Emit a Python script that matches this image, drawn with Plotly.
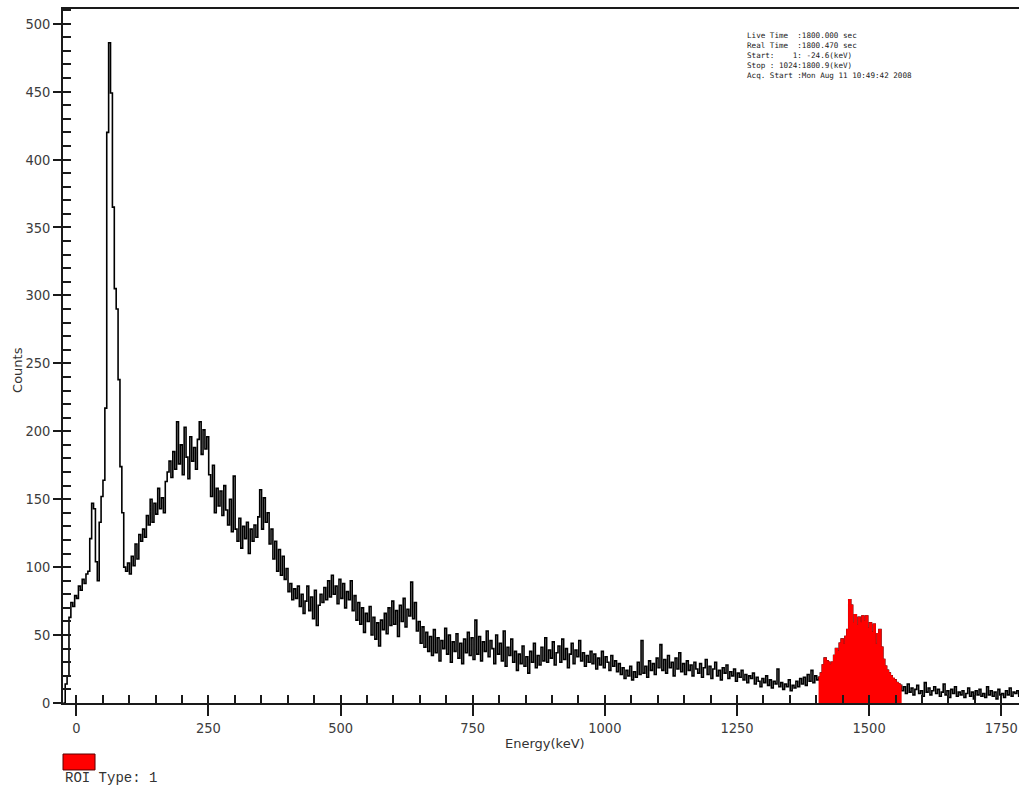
import plotly.graph_objects as go

# Calibration (from the info box): channel 1 -> -24.6 keV, channel 1024 -> 1800.9 keV
start_kev = -24.6
stop_kev = 1800.9

# Spectrum counts (2-channel bins)
counts = [
    0, 14, 20, 63, 74, 71, 79, 77, 86, 83, 91, 88, 95, 97, 121, 147, 143, 104, 90, 133, 152, 164, 217, 420, 486, 449, 365, 305,
    290, 238, 174, 140, 100, 97, 103, 95, 108, 101, 117, 106, 124, 119, 128, 122, 138, 131, 150, 133, 147, 139, 158, 143, 151, 140, 163, 170,
    178, 166, 185, 172, 207, 176, 190, 168, 203, 181, 165, 196, 178, 188, 172, 194, 207, 183, 201, 187, 196, 168, 152, 175, 140, 158, 145, 156,
    138, 160, 142, 131, 150, 126, 167, 128, 119, 136, 114, 130, 121, 133, 110, 128, 119, 131, 122, 137, 157, 128, 151, 133, 140, 117, 128, 106,
    119, 97, 113, 94, 108, 91, 99, 82, 88, 76, 84, 77, 86, 71, 80, 66, 75, 86, 68, 78, 62, 83, 57, 72, 80, 74, 85, 76,
    90, 78, 94, 80, 86, 73, 91, 77, 88, 70, 82, 76, 90, 68, 79, 61, 74, 58, 70, 52, 66, 60, 71, 50, 63, 47, 59, 42,
    61, 54, 66, 51, 70, 57, 75, 58, 68, 49, 72, 60, 77, 56, 69, 64, 89, 62, 74, 53, 60, 44, 56, 41, 52, 38, 49, 35,
    54, 37, 48, 31, 46, 40, 55, 36, 50, 30, 45, 38, 51, 33, 44, 29, 47, 37, 52, 35, 48, 32, 61, 36, 49, 31, 45, 38,
    53, 34, 46, 40, 29, 50, 36, 44, 31, 53, 27, 41, 35, 47, 30, 38, 24, 36, 29, 42, 27, 34, 22, 38, 30, 44, 26, 35,
    28, 41, 31, 48, 30, 39, 33, 45, 28, 37, 42, 30, 47, 32, 40, 26, 36, 44, 29, 39, 34, 46, 31, 37, 27, 35, 30, 38,
    29, 36, 25, 33, 28, 38, 26, 34, 30, 24, 35, 27, 31, 23, 29, 21, 26, 18, 24, 20, 27, 17, 23, 19, 30, 21, 46, 22,
    27, 19, 31, 24, 29, 21, 33, 26, 43, 24, 32, 22, 35, 26, 30, 20, 33, 25, 37, 23, 29, 21, 31, 24, 28, 20, 30, 25,
    22, 29, 19, 26, 32, 21, 27, 18, 25, 30, 20, 24, 17, 26, 22, 28, 18, 23, 20, 25, 16, 22, 19, 24, 17, 21, 15, 20,
    18, 22, 14, 19, 16, 12, 18, 15, 20, 13, 17, 11, 16, 14, 25, 12, 15, 10, 14, 12, 17, 9, 13, 11, 16, 12, 18, 14,
    19, 13, 21, 16, 24, 15, 20, 17, 19, 22, 28, 33, 31, 30, 28, 30, 35, 40, 38, 44, 47, 43, 49, 54, 76, 72, 59, 65,
    57, 63, 59, 64, 60, 64, 55, 59, 52, 58, 43, 51, 54, 41, 32, 27, 24, 22, 20, 18, 17, 15, 14, 13, 9, 12, 7, 14,
    8, 11, 6, 10, 13, 7, 9, 5, 15, 8, 11, 6, 9, 12, 7, 10, 5, 8, 14, 6, 9, 4, 10, 7, 12, 5, 8, 6,
    9, 4, 7, 11, 5, 8, 3, 9, 6, 10, 5, 7, 4, 12, 6, 9, 5, 8, 3, 10, 6, 7, 4, 9, 6, 11, 5, 8,
    7, 9, 5, 10, 6, 8, 7, 9,
]

# Region of interest (bin indices)
roi_first = 400
roi_last = 443

info_lines = [
    "Live Time  :1800.000 sec",
    "Real Time  :1800.470 sec",
    "Start:    1: -24.6(keV)",
    "Stop : 1024:1800.9(keV)",
    "Acq. Start :Mon Aug 11 10:49:42 2008",
]

n = len(counts)
step = (stop_kev - start_kev) / (n - 1)
energy = [start_kev + i * step for i in range(n)]

x_range = [-25.2, 1783.6]
y_range = [0, 510.8]
axis_col = "#1a1a1a"
tick_font = dict(family="DejaVu Sans Condensed, DejaVu Sans, sans-serif", size=14.5, color="#3c3c3c")

fig = go.Figure()
fig.add_trace(go.Scatter(
    x=energy, y=counts, mode="lines",
    line=dict(color="black", width=1.6, shape="hv"),
    showlegend=False, hoverinfo="skip",
))
roi_x = energy[roi_first:roi_last + 2]
roi_y = counts[roi_first:roi_last + 1] + [counts[roi_last]]
fig.add_trace(go.Scatter(
    x=roi_x, y=roi_y, mode="lines", fill="tozeroy", fillcolor="#ff0000",
    line=dict(color="#ff0000", width=1.4, shape="hv"),
    showlegend=False, hoverinfo="skip",
))
# helper trace for the inner (minor) tick axes
fig.add_trace(go.Scatter(x=[], y=[], xaxis="x2", yaxis="y2", showlegend=False))

fig.update_layout(
    width=1019, height=790,
    margin=dict(l=63, r=0, t=9, b=87),
    paper_bgcolor="white", plot_bgcolor="white",
    xaxis=dict(
        range=x_range, showline=True, linecolor=axis_col, linewidth=1.5, mirror=True,
        ticks="outside", ticklen=11, tickwidth=1.5, tickcolor=axis_col,
        tick0=0, dtick=250, showgrid=False, zeroline=False, tickfont=tick_font,
        ticklabeloverflow="allow",
    ),
    xaxis2=dict(
        overlaying="x", anchor="y2", range=x_range, ticks="inside", ticklen=8,
        tickwidth=1.5, tickcolor=axis_col, tick0=0, dtick=50, showticklabels=False,
        showgrid=False, zeroline=False, showline=False,
    ),
    yaxis=dict(
        range=y_range, showline=True, linecolor=axis_col, linewidth=1.5,
        ticks="outside", ticklen=8, tickwidth=1.5, tickcolor=axis_col,
        tick0=0, dtick=50, showgrid=False, zeroline=False, tickfont=tick_font,
    ),
    yaxis2=dict(
        overlaying="y", anchor="x2", range=y_range, ticks="inside", ticklen=8,
        tickwidth=1.5, tickcolor=axis_col, tick0=0, dtick=10, showticklabels=False,
        showgrid=False, zeroline=False, showline=False,
    ),
)

fig.add_annotation(
    text="Energy(keV)", xref="paper", yref="paper", x=0.504, y=-0.059,
    xanchor="center", yanchor="middle", showarrow=False,
    font=dict(family="DejaVu Sans, sans-serif", size=13, color="#333333"),
)
fig.add_annotation(
    text="Counts", xref="paper", yref="paper", x=-0.047, y=0.48, textangle=-90,
    xanchor="center", yanchor="middle", showarrow=False,
    font=dict(family="DejaVu Sans, sans-serif", size=13, color="#333333"),
)
fig.add_annotation(
    text="<br>".join(l.replace(" ", "&nbsp;") for l in info_lines),
    xref="paper", yref="paper", x=0.7134, y=0.971,
    xanchor="left", yanchor="top", align="left", showarrow=False,
    font=dict(family="DejaVu Sans Mono, monospace", size=7.6, color="#222222"),
)
fig.add_shape(
    type="rect", xref="paper", yref="paper", x0=0.0, x1=0.0335, y0=-0.0965, y1=-0.0735,
    fillcolor="#ff0000", line=dict(color="#5a0000", width=1),
)
fig.add_annotation(
    text="ROI&nbsp;Type:&nbsp;1", xref="paper", yref="paper", x=0.0, y=-0.108,
    xanchor="left", yanchor="middle", showarrow=False,
    font=dict(family="Liberation Mono, DejaVu Sans Mono, monospace", size=14, color="#333333"),
)

fig.write_html("out.html")
